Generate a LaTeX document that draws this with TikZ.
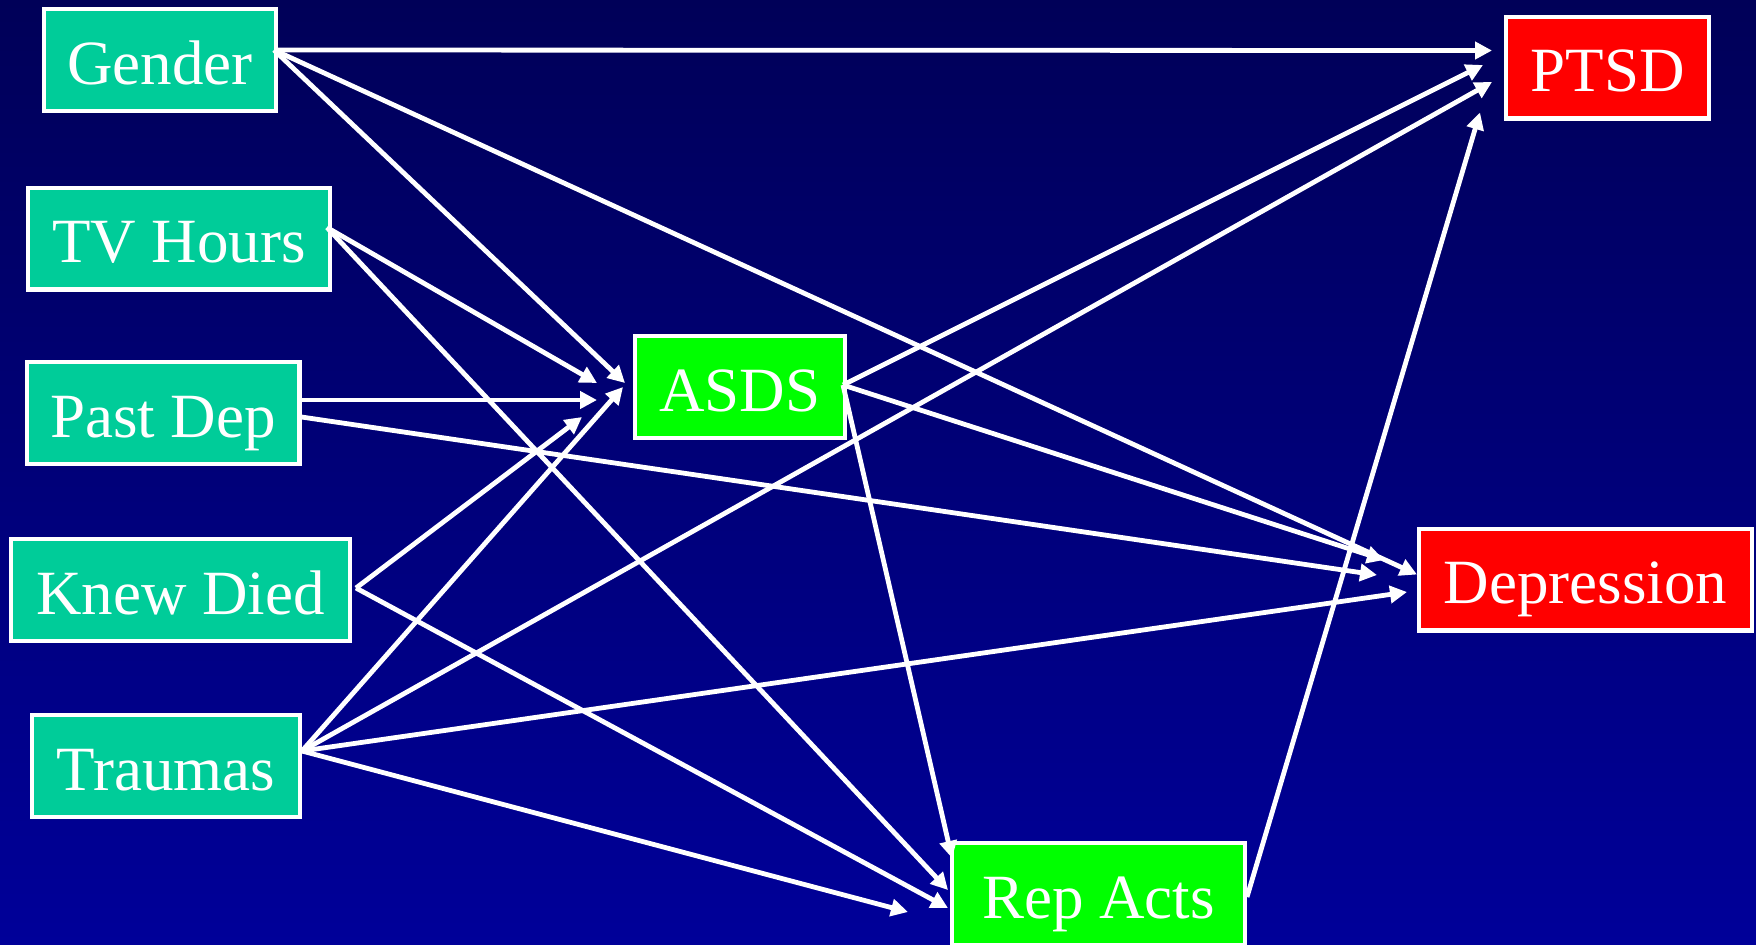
\documentclass[tikz,border=0pt]{standalone}
\usepackage{fontspec}
\setmainfont{Liberation Serif}
\usetikzlibrary{arrows.meta}
\definecolor{bgtop}{RGB}{0,0,88}
\definecolor{bgbottom}{RGB}{0,0,153}
\definecolor{factorfill}{RGB}{0,204,153}
\definecolor{mediatorfill}{RGB}{0,255,0}
\definecolor{outcomefill}{RGB}{255,0,0}
\tikzset{
  varbox/.style={draw=white, line width=2.2pt, text=white, minimum height=50.8pt, inner sep=0pt, text height=30pt, text depth=6pt, font=\fontsize{31.5}{36}\selectfont},
  factor/.style={varbox, fill=factorfill},
  mediator/.style={varbox, fill=mediatorfill},
  outcome/.style={varbox, fill=outcomefill},
  link/.style={draw=white, line width=2.4pt, -{Triangle[length=8.5pt,width=8.5pt]}}
}
\begin{document}
\begin{tikzpicture}[x=0.5pt,y=-0.5pt]
\useasboundingbox (0,0) rectangle (1756,944);
\shade[top color=bgtop, bottom color=bgbottom] (0,0) rectangle (1756,944);
% predictors
\node[factor, minimum width=115.8pt] (gender) at (160,60) {Gender};
\node[factor, minimum width=150.8pt] (tvhours) at (179,238.5) {TV Hours};
\node[factor, minimum width=136.3pt] (pastdep) at (163,413) {Past Dep};
\node[factor, minimum width=169.3pt] (knewdied) at (180.5,590) {Knew Died};
\node[factor, minimum width=133.8pt] (traumas) at (166,766) {Traumas};
% mediators
\node[mediator, minimum width=104.8pt] (asds) at (740,387) {ASDS};
\node[mediator, minimum width=146.3pt] (repacts) at (1098.5,894) {Rep Acts};
% outcomes
\node[outcome, minimum width=101.3pt] (ptsd) at (1607.5,67.5) {PTSD};
\node[outcome, minimum width=166.3pt] (depression) at (1585.5,579.5) {Depression};
% paths
\draw[link] ([shift={(-4,-10)}]gender.east) -- ([shift={(-12,-17)}]ptsd.west);
\draw[link] ([shift={(-4,-10)}]gender.east) -- ([shift={(-8,-4)}]asds.west);
\draw[link] ([shift={(-4,-10)}]gender.east) -- ([shift={(0,-5)}]depression.west);
\draw[link] ([shift={(-5,-11)}]tvhours.east) -- ([shift={(-36,-4)}]asds.west);
\draw[link] ([shift={(-5,-11)}]tvhours.east) -- ([shift={(-2,-4)}]repacts.west);
\draw[link] ([shift={(0,-13)}]pastdep.east) -- ([shift={(-36,13)}]asds.west);
\draw[link] ([shift={(0,4)}]pastdep.east) -- ([shift={(-40,-4.5)}]depression.west);
\draw[link] ([shift={(4,-2)}]knewdied.east) -- ([shift={(-51,30)}]asds.west);
\draw[link] ([shift={(4,-2)}]knewdied.east) -- ([shift={(-2,14)}]repacts.west);
\draw[link] ([shift={(0,-15)}]traumas.east) -- ([shift={(-10,0)}]asds.west);
\draw[link] ([shift={(0,-15)}]traumas.east) -- ([shift={(-12,14.5)}]ptsd.west);
\draw[link] ([shift={(0,-15)}]traumas.east) -- ([shift={(-10,12.5)}]depression.west);
\draw[link] ([shift={(0,-15)}]traumas.east) -- ([shift={(-42,18)}]repacts.west);
\draw[link] ([shift={(-4,-2)}]asds.east) -- ([shift={(-21,-2.5)}]ptsd.west);
\draw[link] ([shift={(-4,-2)}]asds.east) -- ([shift={(-33,-19.5)}]depression.west);
\draw[link] ([shift={(-4,-2)}]asds.east) -- ([shift={(2,17)}]repacts.north west);
\draw[link] ([shift={(0,3)}]repacts.east) -- ([shift={(-24,-8)}]ptsd.south west);
\end{tikzpicture}
\end{document}
